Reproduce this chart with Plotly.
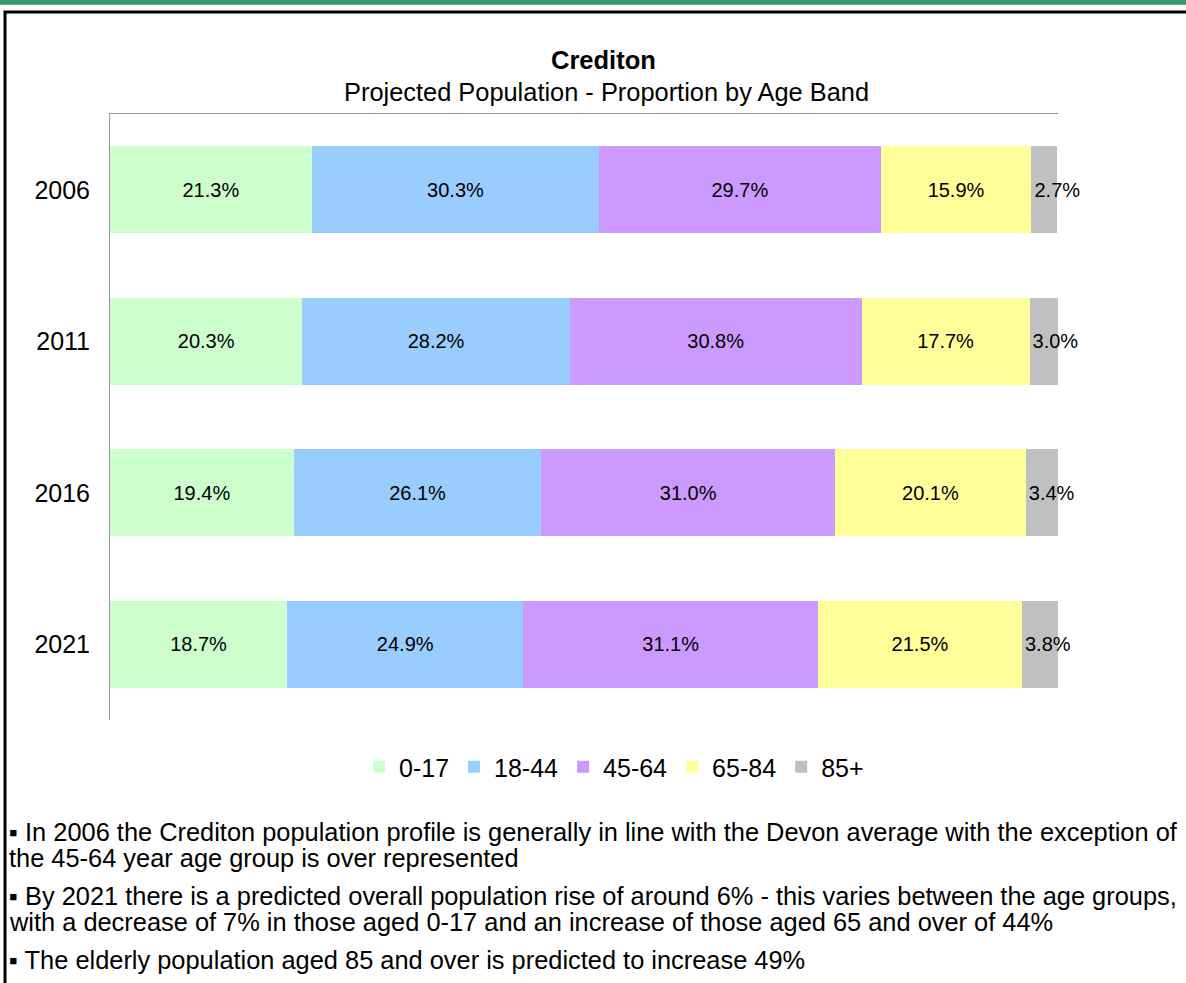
import plotly.graph_objects as go

years = ["2006", "2011", "2016", "2021"]
bands = ["0-17", "18-44", "45-64", "65-84", "85+"]
values = {
    "0-17": [21.3, 20.3, 19.4, 18.7],
    "18-44": [30.3, 28.2, 26.1, 24.9],
    "45-64": [29.7, 30.8, 31.0, 31.1],
    "65-84": [15.9, 17.7, 20.1, 21.5],
    "85+": [2.7, 3.0, 3.4, 3.8],
}
colors = {
    "0-17": "#CCFFCC",
    "18-44": "#99CCFF",
    "45-64": "#CC99FF",
    "65-84": "#FFFF99",
    "85+": "#C0C0C0",
}
title = "Crediton"
subtitle = "Projected Population - Proportion by Age Band"
notes = [
    "▪ In 2006 the Crediton population profile is generally in line with the Devon average with the exception of",
    "the 45-64 year age group is over represented",
    "▪ By 2021 there is a predicted overall population rise of around 6% - this varies between the age groups,",
    "with a decrease of 7% in those aged 0-17 and an increase of those aged 65 and over of 44%",
    "▪ The elderly population aged 85 and over is predicted to increase 49%",
]

FONT = "Liberation Sans, Arial, sans-serif"
W, H = 1186, 983
L, R, T, B = 110, 128, 114, 263
PW, PH = W - L - R, H - T - B


def px_x(x):
    return (x - L) / PW


def px_y(y):
    return (H - B - y) / PH


fig = go.Figure()
for b in bands:
    small = b == "85+"
    fig.add_trace(go.Bar(
        x=values[b], y=years, orientation="h", name=b,
        marker=dict(color=colors[b], line=dict(width=0)),
        text=[f"{v:.1f}%" for v in values[b]],
        textposition="inside", insidetextanchor="start" if small else "middle",
        constraintext="none", textangle=0, cliponaxis=False,
        textfont=dict(family=FONT, size=20, color="black"),
        hoverinfo="skip",
    ))

annotations = [
    dict(text=f"<b>{title}</b>", x=px_x(603), y=px_y(60), xref="paper", yref="paper",
         showarrow=False, xanchor="center", yanchor="middle",
         font=dict(family=FONT, size=25.5, color="black")),
    dict(text=subtitle, x=px_x(606), y=px_y(92), xref="paper", yref="paper",
         showarrow=False, xanchor="center", yanchor="middle",
         font=dict(family=FONT, size=25.4, color="black")),
]
note_y = [832, 858, 896, 922, 960]
for t, yy in zip(notes, note_y):
    annotations.append(dict(text=t, x=px_x(7), y=px_y(yy), xref="paper", yref="paper",
                            showarrow=False, xanchor="left", yanchor="middle",
                            font=dict(family=FONT, size=25.4, color="black")))

shapes = [
    dict(type="rect", xref="paper", yref="paper", x0=px_x(-20), x1=px_x(W + 20),
         y0=px_y(4.7), y1=px_y(-10), fillcolor="#339966", line=dict(width=0), layer="above"),
    dict(type="rect", xref="paper", yref="paper", x0=px_x(5), x1=px_x(W + 30),
         y0=px_y(12), y1=px_y(H + 30), fillcolor="rgba(0,0,0,0)",
         line=dict(color="black", width=3), layer="above"),
]

fig.update_layout(
    width=W, height=H, autosize=False,
    margin=dict(l=L, r=R, t=T, b=B, pad=0),
    paper_bgcolor="white", plot_bgcolor="white",
    barmode="stack", bargap=0.425,
    font=dict(family=FONT, color="black"),
    showlegend=True,
    legend=dict(orientation="h", x=px_x(614), y=px_y(767), xanchor="center", yanchor="middle",
                font=dict(family=FONT, size=25, color="black"), traceorder="normal",
                itemclick=False, itemdoubleclick=False),
    xaxis=dict(range=[0, 100], side="top", showline=True, linecolor="#999999", linewidth=1,
               showticklabels=False, ticks="", showgrid=False, zeroline=False, fixedrange=True),
    yaxis=dict(autorange="reversed", type="category", showline=True, linecolor="#999999",
               linewidth=1, ticks="", showgrid=False, zeroline=False,
               tickfont=dict(family=FONT, size=25, color="black"), ticklabelstandoff=14,
               fixedrange=True),
    annotations=annotations,
    shapes=shapes,
)

fig.write_html(
    "out.html",
    config={"displayModeBar": False, "staticPlot": True},
    post_script="document.body.style.margin='0px';document.body.style.overflow='hidden';",
)
